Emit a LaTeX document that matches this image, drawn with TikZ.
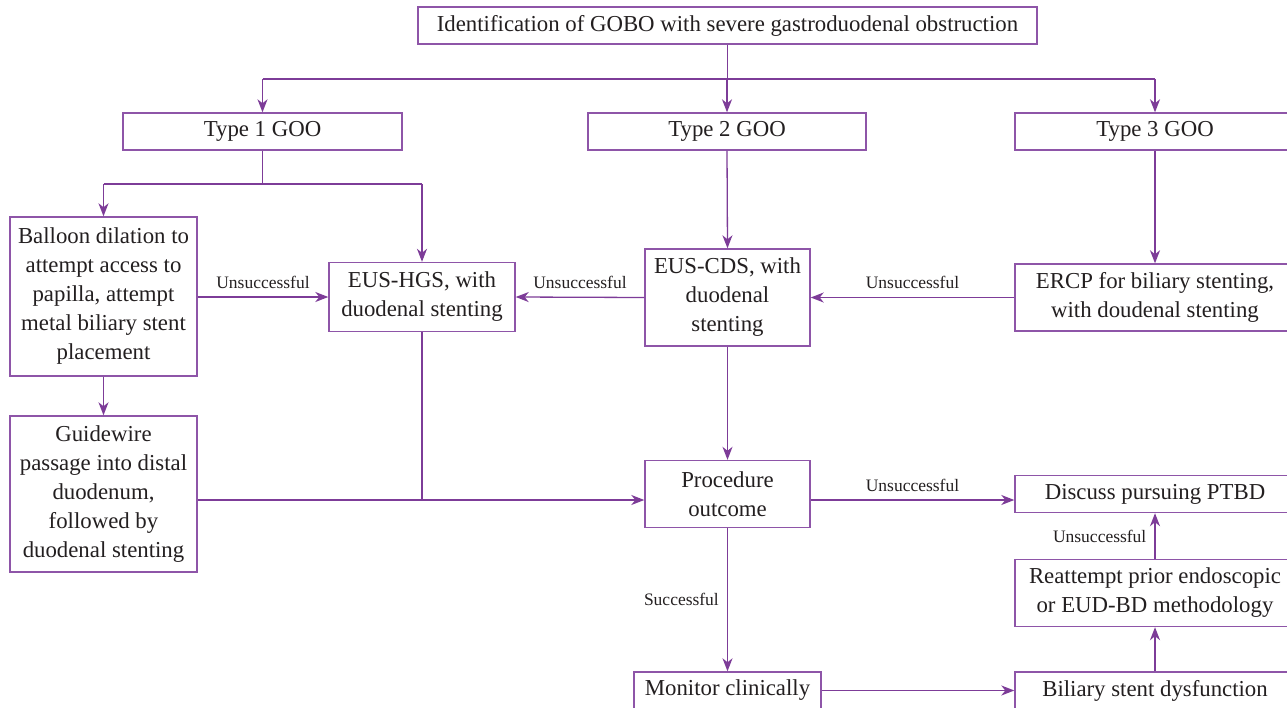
\documentclass[tikz,border=0pt]{standalone}
\usepackage{fontspec}
\setmainfont{Liberation Serif}
\usetikzlibrary{arrows.meta,calc}
\definecolor{pline}{HTML}{7D3C98}
\definecolor{pbox}{HTML}{8E55A8}
\definecolor{ptext}{HTML}{231F20}
\begin{document}
\begin{tikzpicture}[x=1pt,y=-1pt,
  box/.style={draw=pbox,line width=1.4pt,align=center,text=ptext,inner sep=0pt,
    font=\fontsize{22.8}{29}\selectfont},
  arr/.style={draw=pline,line width=1.3pt,-{Stealth[length=13pt,width=10pt,inset=4pt]}},
  ln/.style={draw=pline,line width=1.3pt},
  lab/.style={text=ptext,font=\fontsize{17.5}{20}\selectfont,inner sep=0pt}]
\useasboundingbox (0,0) rectangle (1287,707);
\clip (0,0) rectangle (1287,707);
\fill[white] (0,0) rectangle (1287,707);
% nodes
\node[box,minimum width=619pt,minimum height=37pt] (top) at (727.5,25.5) {Identification of GOBO with severe gastroduodenal obstruction};
\node[box,minimum width=279pt,minimum height=37pt] (t1) at (262.5,131.5) {Type 1 GOO};
\node[box,minimum width=278pt,minimum height=37pt] (t2) at (727,131.5) {Type 2 GOO};
\node[box,minimum width=280pt,minimum height=37pt] (t3) at (1155,131.5) {Type 3 GOO};
\node[box,minimum width=187pt,minimum height=159pt] (bal) at (103.5,296.5) {Balloon dilation to\\attempt access to\\papilla, attempt\\metal biliary stent\\placement};
\node[box,minimum width=187pt,minimum height=156pt] (gw) at (103.5,494) {Guidewire\\passage into distal\\duodenum,\\followed by\\duodenal stenting};
\node[box,minimum width=186pt,minimum height=69pt] (hgs) at (422,297) {EUS-HGS, with\\duodenal stenting};
\node[box,minimum width=165pt,minimum height=97pt] (cds) at (727.5,297.5) {EUS-CDS, with\\duodenal\\stenting};
\node[box,minimum width=280pt,minimum height=67pt] (ercp) at (1155,297.5) {ERCP for biliary stenting,\\with doudenal stenting};
\node[box,minimum width=165pt,minimum height=67pt] (proc) at (727.5,494) {Procedure\\outcome};
\node[box,minimum width=280pt,minimum height=37pt] (ptbd) at (1155,494) {Discuss pursuing PTBD};
\node[box,minimum width=280pt,minimum height=67pt] (reat) at (1155,593) {Reattempt prior endoscopic\\or EUD-BD methodology};
\node[box,minimum width=187pt,minimum height=37pt] (mon) at (727.5,690.5) {Monitor clinically};
\node[box,minimum width=280pt,minimum height=37pt] (bil) at (1155,690.5) {Biliary stent dysfunction};
% coordinates
\coordinate (r1) at (0,79);
\coordinate (r2) at (0,184);
\coordinate (r3) at (0,500);
% connectors
\draw[ln] (top.south) -- (top.south |- r1);
\draw[ln] (t1.north |- r1) -- (t3.north |- r1);
\draw[arr] (t1.north |- r1) -- (t1.north);
\draw[arr] (t2.north |- r1) -- (t2.north);
\draw[arr] (t3.north |- r1) -- (t3.north);
\draw[ln] (t1.south) -- (t1.south |- r2);
\draw[ln] (bal.north |- r2) -- (hgs.north |- r2);
\draw[arr] (bal.north |- r2) -- (bal.north);
\draw[arr] (hgs.north |- r2) -- (hgs.north);
\draw[arr] (t2.south) -- (cds.north);
\draw[arr] (t3.south) -- (ercp.north);
\draw[arr] (bal.south) -- (gw.south |- gw.north);
\draw[arr] (bal.east |- hgs.west) -- node[lab,above=8pt] {Unsuccessful} (hgs.west);
\draw[arr] (cds.west) -- node[lab,above=8pt] {Unsuccessful} (hgs.east);
\draw[arr] (ercp.west) -- node[lab,above=8pt] {Unsuccessful} (cds.east);
\draw[arr] (cds.south) -- (proc.north);
\draw[arr] (gw.east |- r3) -- (proc.west |- r3);
\draw[ln] (hgs.south) -- (hgs.south |- r3);
\draw[arr] (proc.east |- r3) -- node[lab,above=8pt] {Unsuccessful} (ptbd.west |- r3);
\draw[arr] (proc.south) -- node[lab,left=8pt,pos=0.5] {Successful} (mon.north);
\draw[arr] (mon.east) -- (bil.west);
\draw[arr] (bil.north) -- (reat.south);
\draw[arr] (reat.north) -- node[lab,left=8pt] {Unsuccessful} (ptbd.south);
\end{tikzpicture}
\end{document}
